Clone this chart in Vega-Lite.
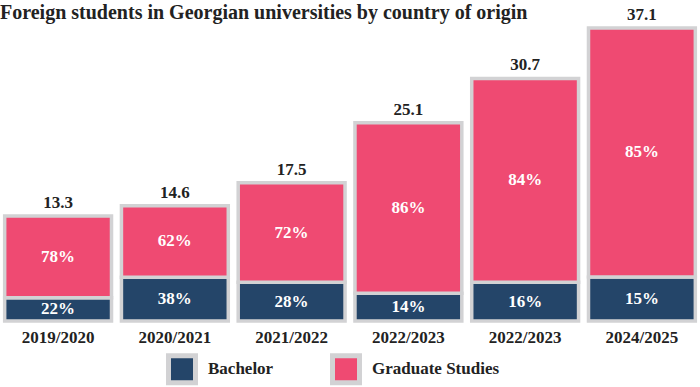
{
  "$schema": "https://vega.github.io/schema/vega-lite/v6.json",
  "autosize": "none",
  "width": 700,
  "height": 316,
  "padding": {"top": 5, "left": 0, "right": 0, "bottom": 66},
  "background": "white",
  "title": {
    "text": "Foreign students in Georgian universities by country of origin",
    "anchor": "start",
    "frame": "group",
    "offset": -18,
    "font": "Liberation Serif",
    "fontSize": 20,
    "fontWeight": "bold",
    "color": "#222222"
  },
  "datasets": {
    "segments": [
      {"period": "2019/2020", "category": "Bachelor", "value": 2.93, "pct": "22%"},
      {"period": "2019/2020", "category": "Graduate Studies", "value": 10.37, "pct": "78%"},
      {"period": "2020/2021", "category": "Bachelor", "value": 5.55, "pct": "38%"},
      {"period": "2020/2021", "category": "Graduate Studies", "value": 9.05, "pct": "62%"},
      {"period": "2021/2022", "category": "Bachelor", "value": 4.9, "pct": "28%"},
      {"period": "2021/2022", "category": "Graduate Studies", "value": 12.6, "pct": "72%"},
      {"period": "2022/2023", "category": "Bachelor", "value": 3.51, "pct": "14%"},
      {"period": "2022/2023", "category": "Graduate Studies", "value": 21.59, "pct": "86%"},
      {"period": "2022/2023 ", "category": "Bachelor", "value": 4.91, "pct": "16%"},
      {"period": "2022/2023 ", "category": "Graduate Studies", "value": 25.79, "pct": "84%"},
      {"period": "2024/2025", "category": "Bachelor", "value": 5.57, "pct": "15%"},
      {"period": "2024/2025", "category": "Graduate Studies", "value": 31.53, "pct": "85%"}
    ],
    "totals": [
      {"period": "2019/2020", "total": 13.3},
      {"period": "2020/2021", "total": 14.6},
      {"period": "2021/2022", "total": 17.5},
      {"period": "2022/2023", "total": 25.1},
      {"period": "2022/2023 ", "total": 30.7},
      {"period": "2024/2025", "total": 37.1}
    ]
  },
  "config": {
    "view": {"stroke": null},
    "font": "Liberation Serif"
  },
  "encoding": {
    "x": {
      "field": "period",
      "type": "nominal",
      "sort": null,
      "title": null,
      "scale": {"paddingInner": 0.085, "paddingOuter": 0.04},
      "axis": {
        "domain": false,
        "ticks": false,
        "labelAngle": 0,
        "labelPadding": 8,
        "labelFont": "Liberation Serif",
        "labelFontSize": 17,
        "labelFontWeight": "bold",
        "labelColor": "#222222"
      }
    }
  },
  "layer": [
    {
      "data": {"name": "segments"},
      "mark": {"type": "bar", "stroke": "#d2d2d4", "strokeWidth": 3.5},
      "encoding": {
        "y": {
          "field": "value",
          "type": "quantitative",
          "stack": "zero",
          "scale": {"domain": [0, 40]},
          "axis": null
        },
        "color": {
          "field": "category",
          "type": "nominal",
          "scale": {"domain": ["Bachelor", "Graduate Studies"], "range": ["#244569", "#ef4a72"]},
          "legend": {
            "title": null,
            "orient": "none",
            "legendX": 166,
            "legendY": 348,
            "direction": "horizontal",
            "symbolType": "square",
            "symbolSize": 729,
            "symbolStrokeColor": "#d2d2d4",
            "symbolStrokeWidth": 5,
            "symbolOpacity": 1,
            "labelFont": "Liberation Serif",
            "labelFontSize": 17,
            "labelFontWeight": "bold",
            "labelColor": "#222222",
            "labelOffset": 10,
            "columnPadding": 48
          }
        },
        "order": {"field": "category", "sort": "ascending"}
      }
    },
    {
      "data": {"name": "segments"},
      "transform": [
        {"stack": "value", "groupby": ["period"], "sort": [{"field": "category", "order": "ascending"}], "as": ["v0", "v1"]},
        {"calculate": "(datum.v0 + datum.v1) / 2", "as": "mid"}
      ],
      "mark": {"type": "text", "font": "Liberation Serif", "fontSize": 17, "fontWeight": "bold", "color": "white", "baseline": "middle"},
      "encoding": {
        "y": {"field": "mid", "type": "quantitative", "scale": {"domain": [0, 40]}, "axis": null},
        "text": {"field": "pct", "type": "nominal"}
      }
    },
    {
      "data": {"name": "totals"},
      "mark": {"type": "text", "font": "Liberation Serif", "fontSize": 17, "fontWeight": "bold", "color": "#222222", "baseline": "bottom", "dy": -4},
      "encoding": {
        "y": {"field": "total", "type": "quantitative", "scale": {"domain": [0, 40]}, "axis": null},
        "text": {"field": "total", "type": "quantitative", "format": ".1f"}
      }
    }
  ]
}
